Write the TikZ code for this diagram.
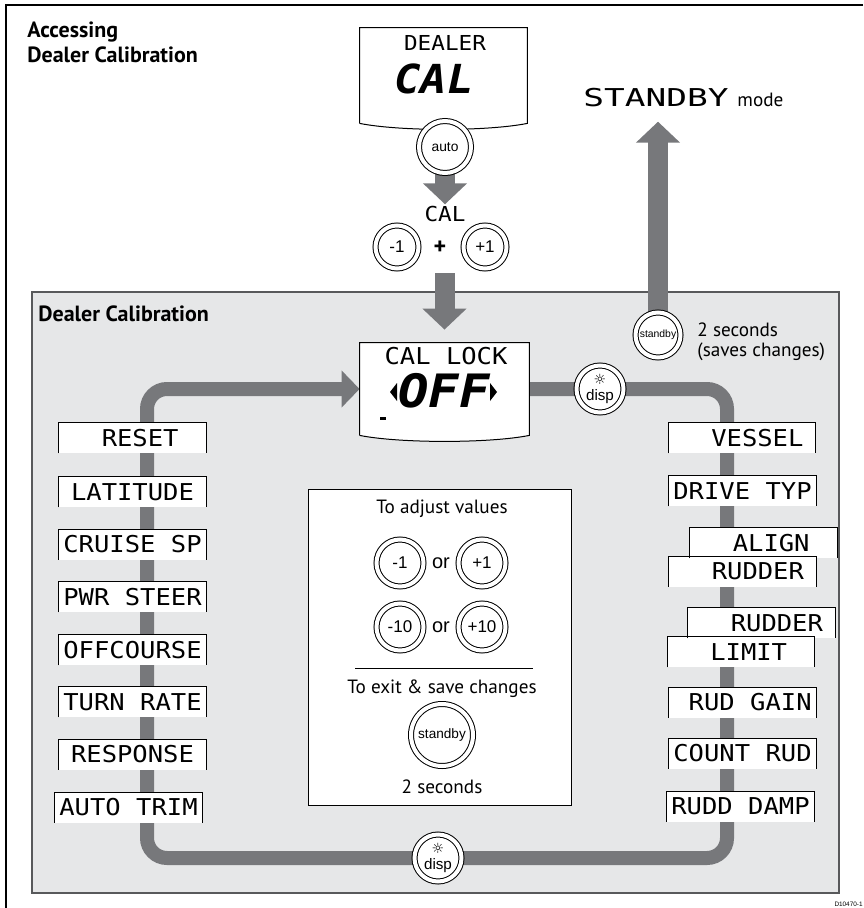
\documentclass[tikz,border=0pt]{standalone}
\usepackage{fontspec}
\setmainfont{PT Sans}
\newfontfamily\btnfont{Liberation Sans}
\newfontfamily\lcdfont[FakeStretch=1.1]{DejaVu Sans Mono}
\newfontfamily\lcdwide[FakeStretch=1.4]{DejaVu Sans Mono}
\newfontfamily\symfont{DejaVu Sans}
\usepackage{tikz}
\usetikzlibrary{arrows.meta}

\definecolor{panelgray}{HTML}{E6E7E8}
\definecolor{flowgray}{HTML}{77787B}
\definecolor{edgegray}{HTML}{58595B}

\pgfdeclarelayer{panel}
\pgfdeclarelayer{flow}
\pgfsetlayers{panel,flow,main}

\begin{document}
\begin{tikzpicture}[x=0.5pt, y=-0.5pt,
    lcdbox/.style={fill=white, minimum width=73.5pt, minimum height=15pt, inner sep=0pt, font=\lcdfont\fontsize{11.6}{12}\selectfont},
    lcdtext/.style={inner sep=0pt, font=\lcdfont\fontsize{#1}{14}\selectfont},
    lcdbig/.style={inner sep=0pt, font=\lcdfont\bfseries\itshape\fontsize{#1}{24}\selectfont},
    btn/.style={circle, draw, double, double distance=2pt, line width=0.5pt, fill=white, inner sep=0pt, minimum size=#1},
    btntext/.style={font=\btnfont\fontsize{#1}{8}\selectfont},
    blockarrow/.style={flowgray, line width=10pt, -{Triangle[width=21.5pt, length=10.5pt]}},
    flowline/.style={flowgray, line width=7pt, rounded corners=10pt, -{Triangle[width=18pt, length=9pt]}},
    note/.style={inner sep=0pt, font=\fontsize{9.6}{11}\selectfont},
    titletext/.style={inner sep=0pt, anchor=base west, font=\bfseries\fontsize{11}{13}\selectfont}]
    \useasboundingbox (0,0) rectangle (863,908);

    % frame and titles
    \draw[line width=0.6pt] (863,5) -- (6,5) -- (6,908);
    \node[titletext] (acc) at (27,37.5) {Accessing};
    \node[titletext] (accdc) at (27,63) {Dealer Calibration};

    % DEALER CAL display
    \node[minimum width=83.5pt, minimum height=47.5pt, inner sep=0pt] (dealerdisp) at (443.5,75.5) {};
    \draw[fill=white, line width=0.5pt] (dealerdisp.south west) -- (dealerdisp.north west) -- (dealerdisp.north east) -- (dealerdisp.south east) .. controls +(-40,8) and +(40,8) .. (dealerdisp.south west);
    \node[lcdtext=10.3] (dealertxt) at (445,42.5) {DEALER};
    \node[lcdbig=20] (dealercal) at (434,79) {CAL};

    \node[btn=26pt, btntext=6.9] (auto) at (445,147) {auto};
    \node[lcdtext=10.3] (caltxt) at (445,214.5) {CAL};
    \node[btn=21.5pt, btntext=8.5] (minusone) at (397,247) {-1};
    \node[inner sep=0pt, font=\bfseries\fontsize{12}{12}\selectfont] (plus) at (440,248) {+};
    \node[btn=21.5pt, btntext=8.5] (plusone) at (485,247) {+1};

    % standby mode
    \node[inner sep=0pt, font=\lcdwide\fontsize{12.3}{14}\selectfont] (stbytxt) at (656,98) {STANDBY};
    \node[note, anchor=base west] (modetxt) at (737,107) {mode};

    % dealer calibration panel
    \begin{pgfonlayer}{panel}
        \draw[edgegray, fill=panelgray, line width=0.6pt] (32,292) rectangle (839,893);
    \end{pgfonlayer}
    \node[titletext] (dctitle) at (38,322) {Dealer Calibration};

    \node[btn=22.5pt, btntext=5.2] (stbybtn) at (658,335) {standby};
    \node[note, anchor=base west] (twosec) at (697,337) {2 seconds};
    \node[note, anchor=base west] (saves) at (697,357) {(saves changes)};

    % CAL LOCK display
    \node[minimum width=84.5pt, minimum height=46pt, inner sep=0pt] (caldisp) at (444.5,389) {};
    \draw[fill=white, line width=0.5pt] (caldisp.south west) -- (caldisp.north west) -- (caldisp.north east) -- (caldisp.south east) .. controls +(-40,8) and +(40,8) .. (caldisp.south west);
    \node[lcdtext=11.6] (locktxt) at (446,356.5) {CAL LOCK};
    \node[lcdbig=23] (offtxt) at (444,391) {OFF};
    \fill (390,392) -- (397,383) -- (397,401) -- cycle;
    \fill (497,392) -- (490,383) -- (490,401) -- cycle;
    \fill (380,417) rectangle (386,419.5);

    \node[btn=23.5pt, btntext=7.6, align=center] (disptop) at (600,389) {{\symfont\fontsize{7}{7}\selectfont ☼}\\disp};
    \node[btn=23.5pt, btntext=7.6, align=center] (dispbot) at (438,858) {{\symfont\fontsize{7}{7}\selectfont ☼}\\disp};

    % adjust box
    \node[draw, fill=white, line width=0.5pt, minimum width=131.5pt, minimum height=158pt, inner sep=0pt] (adjbox) at (439.5,647) {};
    \node[note, anchor=base] (adjtxt) at (442,513) {To adjust values};
    \node[btn=23.5pt, btntext=8.5] (minusa) at (400,563) {-1};
    \node[inner sep=0pt, btntext=10] (ora) at (441,563) {or};
    \node[btn=23.5pt, btntext=8.5] (plusa) at (482,563) {+1};
    \node[btn=23.5pt, btntext=8.5] (minusb) at (400,627) {-10};
    \node[inner sep=0pt, btntext=10] (orb) at (441,627) {or};
    \node[btn=23.5pt, btntext=8.5] (plusb) at (482,627) {+10};
    \draw[line width=0.5pt] (355,668) -- (533,668);
    \node[note, anchor=base] (exittxt) at (442,693) {To exit \& save changes};
    \node[btn=31pt, btntext=6.8] (stbyc) at (442,735) {standby};
    \node[note, anchor=base] (twosecc) at (442,793) {2 seconds};

    % left menu
    \node[lcdbox] (reset) at (132.5,438) {~~RESET~~};
    \node[lcdbox] (latitude) at (132.5,492) {LATITUDE~};
    \node[lcdbox] (cruisesp) at (132.5,544.5) {CRUISE SP};
    \node[lcdbox] (pwrsteer) at (132.5,597) {PWR STEER};
    \node[lcdbox] (offcourse) at (132.5,650) {OFFCOURSE};
    \node[lcdbox] (turnrate) at (132.5,702) {TURN RATE};
    \node[lcdbox] (response) at (132.5,754.5) {RESPONSE~};
    \node[lcdbox] (autotrim) at (128.5,807.5) {AUTO TRIM};

    % right menu
    \node[lcdbox] (vessel) at (742,438) {~~VESSEL~};
    \node[lcdbox] (drivetyp) at (742.5,491) {DRIVE TYP};
    \node[lcdbox] (aligntop) at (763.5,543) {~~ALIGN~~};
    \node[lcdbox] (alignbot) at (742.5,571.5) {~~RUDDER~};
    \node[lcdbox] (limittop) at (761.5,623) {~~RUDDER~};
    \node[lcdbox] (limitbot) at (741,652) {~~LIMIT~~};
    \node[lcdbox] (rudgain) at (742.5,702.5) {~RUD GAIN};
    \node[lcdbox] (countrud) at (742.5,753.5) {COUNT RUD};
    \node[lcdbox] (rudddamp) at (740.5,806.5) {RUDD DAMP};

    \foreach \b in {reset, latitude, cruisesp, pwrsteer, offcourse, turnrate, response, autotrim,
                    vessel, drivetyp, aligntop, alignbot, limittop, limitbot, rudgain, countrud, rudddamp}
        \draw[line width=0.5pt] (\b.south west) |- (\b.north east) -- (\b.south east);

    \node[anchor=base east, inner sep=0pt, btntext=3.2] (fignum) at (863,906) {D10470-1};

    % flow
    \coordinate (ne) at (727,389);
    \coordinate (se) at (727,858);
    \coordinate (sw) at (147,858);
    \coordinate (nw) at (147,389);
    \begin{pgfonlayer}{flow}
        \draw[blockarrow, shorten >=1pt] (auto.center) -- (caltxt.north);
        \draw[blockarrow, shorten <=9pt, shorten >=6.5pt] (caldisp.north |- plus.south) -- (caldisp.north);
        \draw[blockarrow, shorten >=7pt] (stbybtn.center) -- (stbybtn |- stbytxt.south);
        \draw[flowline] (caldisp.east) -- (disptop) -- (ne) -- (se) -- (dispbot) -- (sw) -- (nw) -- (caldisp.west);
    \end{pgfonlayer}
\end{tikzpicture}
\end{document}
